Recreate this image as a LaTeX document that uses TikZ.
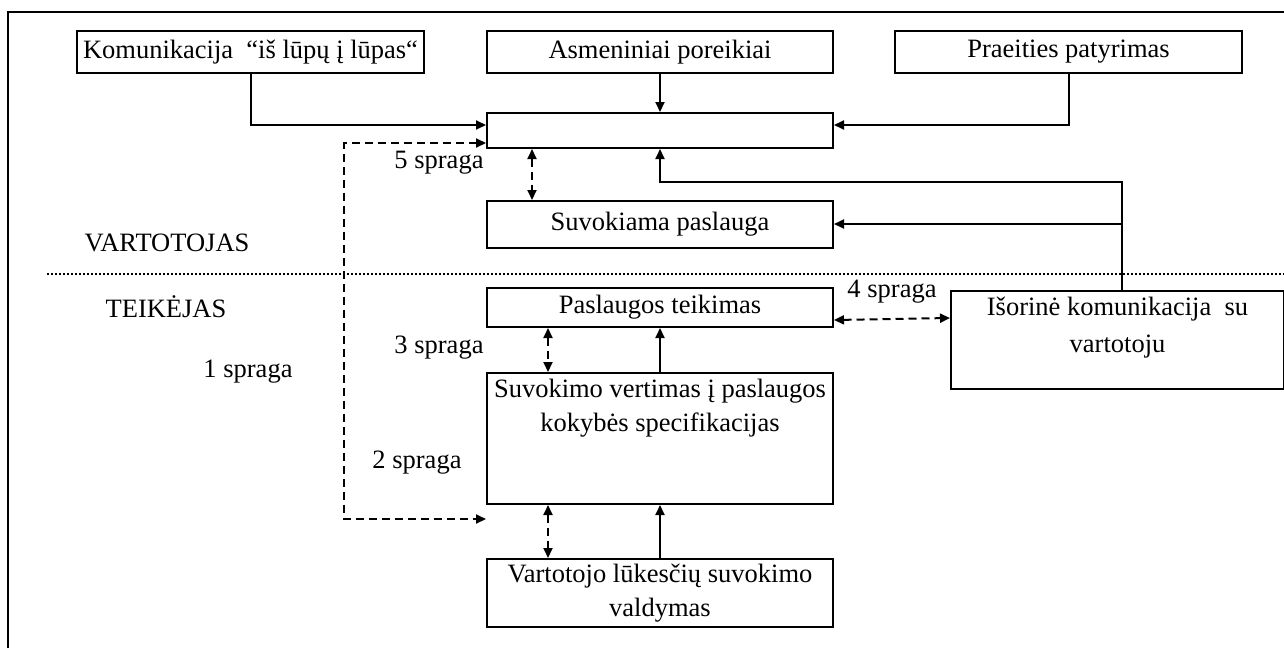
\documentclass[tikz,border=0pt]{standalone}
\usepackage{fontspec}
\setmainfont{Liberation Serif}
\usetikzlibrary{arrows.meta,calc}
\begin{document}
\begin{tikzpicture}[x=1pt,y=-1pt,
  font=\fontsize{26.5}{34}\selectfont,
  box/.style={draw,line width=2pt,rectangle,inner sep=0pt,anchor=north west},
  arr/.style={line width=2pt,-{Triangle[length=10pt,width=9pt]}},
  darr/.style={line width=2pt,dash pattern=on 8pt off 5pt,{Triangle[length=10pt,width=9pt]}-{Triangle[length=10pt,width=9pt]}},
  lbl/.style={inner sep=0pt}]
\useasboundingbox (0,0) rectangle (1284,648);
% frame
\draw[line width=2.2pt] (8,648) -- (8,12) -- (1284,12);
% boxes
\node[box,minimum width=347pt,minimum height=42pt] (k) at (76,30) {Komunikacija \ “iš lūpų į lūpas“};
\node[box,minimum width=346pt,minimum height=42pt] (a) at (486,30) {Asmeniniai poreikiai};
\node[box,minimum width=347pt,minimum height=42pt] (p) at (894,30) {Praeities patyrimas};
\node[box,minimum width=346pt,minimum height=35pt] (e) at (486,112) {};
\node[box,minimum width=346pt,minimum height=47pt] (s) at (486,200) {Suvokiama paslauga};
\node[box,minimum width=346pt,minimum height=39pt] (t) at (486,287) {Paslaugos teikimas};
\node[box,minimum width=346pt,minimum height=131pt,
  label={[anchor=north,align=center,inner sep=0pt,yshift=-7pt,font=\fontsize{26.5}{34}\selectfont]north:Suvokimo vertimas į paslaugos\\kokybės specifikacijas}] (v) at (486,372) {};
\node[box,minimum width=346pt,minimum height=68pt,align=center] (l) at (486,558) {Vartotojo lūkesčių suvokimo\\valdymas};
\node[box,minimum width=333pt,minimum height=98pt,
  label={[anchor=north,align=center,inner sep=0pt,yshift=-7pt,font=\fontsize{26.5}{37}\selectfont]north:Išorinė komunikacija \ su\\vartotoju}] (i) at (950,290) {};
% labels
\node[lbl] (lv) at (167,243) {VARTOTOJAS};
\node[lbl] (lt) at (166,307) {TEIKĖJAS};
\node[lbl] (g1) at (248,372) {1 spraga};
\node[lbl] (g2) at (417,463) {2 spraga};
\node[lbl] (g3) at (439,348) {3 spraga};
\node[lbl] (g4) at (892,292) {4 spraga};
\node[lbl] (g5) at (439,163) {5 spraga};
% dotted separator
\coordinate (d1) at (47,274);
\coordinate (d2) at (1284,274);
\draw[line width=2pt,dash pattern=on 2pt off 2pt] (d1) -- (d2);
% solid connectors
\draw[arr] (k.south) |- ($(e.north west)+(0,13)$);
\draw[arr] (a.south) -- (e.north);
\draw[arr] (p.south) |- ($(e.north east)+(0,13)$);
\coordinate (ix) at (1122,290);
\coordinate (iy) at (1122,182);
\draw[arr] (ix) -- (iy) -| (e.south);
\coordinate (iz) at (1122,224);
\draw[arr] (iz) -- (s.east |- iz);
\draw[arr] (v.north) -- (t.south);
\draw[arr] (l.north) -- (v.south);
% dashed connectors
\draw[darr] ($(e.south west)+(46,0)$) -- ($(s.north west)+(46,0)$);
\draw[darr] ($(t.south east)+(0,-8)$) -- ($(i.north west)+(0,28)$);
\draw[darr] ($(t.south west)+(62,0)$) -- ($(v.north west)+(62,0)$);
\draw[darr] ($(v.south west)+(62,0)$) -- ($(l.north west)+(62,0)$);
\coordinate (c1) at (344,519);
\coordinate (c2) at (486,519);
\draw[darr] ($(e.south west)+(0,-6)$) -| (c1) -- (c2);
\end{tikzpicture}
\end{document}
